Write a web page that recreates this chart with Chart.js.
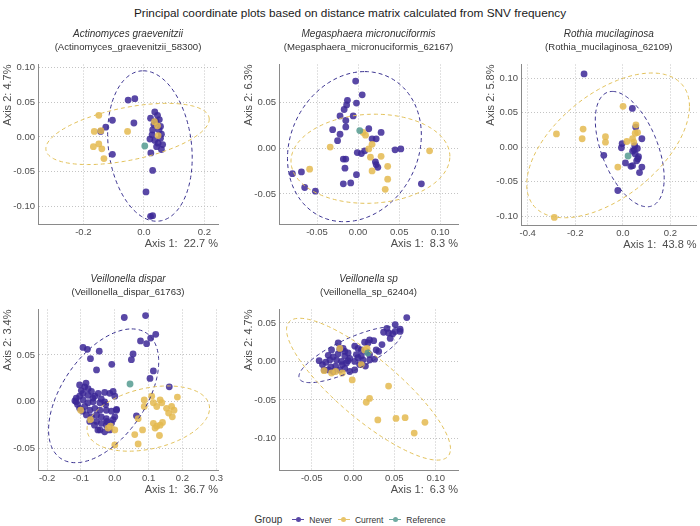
<!DOCTYPE html>
<html lang="en">
<head>
<meta charset="utf-8">
<title>PCoA SNV frequency</title>
<script src="https://cdn.jsdelivr.net/npm/chart.js@4.4.0/dist/chart.umd.min.js"></script>
<style>
    body { margin: 0; width: 700px; height: 526px; position: relative; background: #fff; overflow: hidden;
           font-family: "Liberation Sans", Arial, sans-serif; }
    #title { position: absolute; top: 6px; left: 0; width: 700px; text-align: center; font-size: 11.8px; color: #1a1a1a; }
    canvas { position: absolute; }
    #legend { position: absolute; top: 514px; left: 0; width: 700px; display: flex; justify-content: center;
              align-items: center; font-size: 8.5px; color: #333; }
    #legend .lt { font-size: 10px; margin-right: 4px; }
    #legend .mk { display: inline-block; width: 12px; height: 5px; position: relative; margin: 0 5px 0 6px; }
    #legend .mk::before { content: ""; position: absolute; left: 0; right: 0; top: 2px; height: 1px; background: var(--c); }
    #legend .mk::after { content: ""; position: absolute; left: 3.5px; top: 0; width: 5px; height: 5px; border-radius: 50%; background: var(--c); }
</style>
</head>
<body>
<div id="title">Principal coordinate plots based on distance matrix calculated from SNV frequency</div>

<canvas id="p1" width="222" height="228" style="left:0px;top:24px"></canvas>
<canvas id="p2" width="221" height="228" style="left:241px;top:24px"></canvas>
<canvas id="p3" width="217" height="229" style="left:483px;top:24px"></canvas>
<canvas id="p4" width="228" height="229" style="left:0px;top:269px"></canvas>
<canvas id="p5" width="221" height="229" style="left:241px;top:269px"></canvas>

<div id="legend">
    <span class="lt">Group</span>
    <span class="mk" style="--c:#5948a6"></span>Never
    <span class="mk" style="--c:#e8c46a"></span>Current
    <span class="mk" style="--c:#6faaa1"></span>Reference
</div>

<script>
    // ---- Actinomyces graevenitzii ----
    var actinoNever = [[-0.052,0.053],[-0.030,0.055],[-0.104,0.024],[-0.126,0.014],[-0.143,0.008],[-0.033,0.020],[-0.104,-0.025],
        [0.022,0.027],[0.036,0.036],[0.045,0.031],[0.051,0.025],[0.033,0.018],[0.055,0.015],[0.029,0.010],[0.058,0.004],
        [0.020,-0.003],[0.036,-0.005],[0.047,-0.009],[0.062,-0.011],[0.042,-0.014],[0.058,-0.018],[0.023,-0.023],
        [0.029,-0.048],[0.007,-0.079],[0.022,-0.114],[0.029,-0.113],[0.055,-0.002],[0.040,0.022],[0.050,0.010],[0.027,0.003]];
    var actinoCurrent = [[-0.149,0.031],[-0.164,0.008],[-0.142,0.009],[-0.054,0.008],[-0.167,-0.014],[-0.149,-0.010],
        [-0.139,-0.017],[-0.132,-0.031],[0.045,0.016],[0.047,0.002],[0.035,0.022]];
    var actinoReference = [[0.003,-0.013]];
    // ellipse: centre x, centre y, conjugate half-axis a (x,y), conjugate half-axis b (x,y)
    var actinoEllNever = [0.020,-0.013, -0.022,0.108, 0.138,0];
    var actinoEllCurrent = [-0.054,0.0043, 0.270,0.0212, 0,0.0385];
    var actinoXTicks = ["-0.2","0.0","0.2"];
    var actinoYTicks = ["-0.10","-0.05","0.00","0.05","0.10"];

    // ---- Megasphaera micronuciformis ----
    var megaNever = [[-0.003,0.073],[0.005,0.058],[-0.013,0.052],[-0.014,0.047],[-0.017,0.042],[-0.006,0.035],[-0.022,0.035],[-0.002,0.049],
        [-0.015,0.030],[-0.031,0.020],[-0.015,0.023],[-0.022,0.015],[-0.025,0.008],[0.013,0.021],[0.028,0.017],[0.017,0.010],
        [0.022,0.010],[0.008,-0.003],[0.004,-0.006],[-0.001,-0.005],[-0.018,-0.012],[-0.015,-0.012],[-0.016,-0.022],
        [0.022,-0.018],[0.024,-0.021],[0.021,-0.015],[0.045,-0.002],[0.052,-0.001],[-0.002,-0.029],[-0.009,-0.038],
        [-0.018,-0.039],[-0.080,-0.028],[-0.069,-0.026],[-0.065,-0.043],[-0.052,-0.047],[0.077,-0.039]];
    var megaCurrent = [[-0.034,0.001],[-0.059,-0.023],[0.006,0.017],[0.009,0.014],[0.017,0.004],[0.013,-0.001],[0.015,-0.010],
        [0.028,-0.009],[0.036,-0.020],[0.017,-0.025],[0.036,-0.034],[0.033,-0.045],[0.087,-0.003]];
    var megaReference = [[0.002,0.019]];
    var megaEllNever = [-0.0045,0.0015, 0.0126,0.0818, 0.0805,0];
    var megaEllCurrent = [0.015,-0.0117, 0.0967,0.0026, 0,0.0485];
    var megaXTicks = ["-0.05","0.00","0.05","0.10"];
    var megaYTicks = ["-0.05","0.00","0.05"];

    // ---- Rothia mucilaginosa ----
    var rothiaNever = [[-0.163,0.106],[0.040,0.056],[0.054,0.029],[0.080,0.012],[-0.003,0.005],[-0.006,-0.001],[-0.080,-0.012],
        [0.061,-0.002],[0.041,-0.006],[0.052,-0.010],[0.066,-0.014],[0.063,-0.017],[0.011,-0.023],[0.034,-0.028],[0.041,-0.027],
        [0.080,-0.029],[0.070,-0.037],[-0.021,-0.063],[0.050,0.002],[0.058,-0.020],[0.048,-0.004]];
    var rothiaCurrent = [[0.001,0.059],[0.055,0.032],[0.052,0.020],[0.062,0.021],[0.041,0.012],[0.017,0.008],[0.046,0.007],
        [-0.279,0.019],[-0.167,0.026],[-0.171,0.012],[-0.073,0.015],[-0.073,0.007],[-0.021,-0.029],[-0.288,-0.102]];
    var rothiaReference = [[0.022,-0.013]];
    var rothiaEllNever = [0.029,-0.003, -0.073,0.0836, 0.125,0];
    var rothiaEllCurrent = [-0.062,0.0024, 0.342,0.0565, 0,0.0884];
    var rothiaXTicks = ["-0.4","-0.2","0.0","0.2"];
    var rothiaYTicks = ["-0.10","-0.05","0.00","0.05","0.10"];

    // ---- Veillonella dispar ----
    var disparNever = [[0.028,0.090],[0.091,0.092],[0.121,0.072],[0.106,0.068],[0.076,0.065],[0.094,0.062],[0.054,0.051],[0.049,0.045],
        [-0.009,0.040],[-0.046,0.054],[-0.072,0.046],[-0.094,0.058],[-0.081,0.056],[-0.054,0.034],[0.114,0.033],[0.104,0.025],
        [0.161,0.016],[-0.005,0.011],
        [-0.104,0.018],[-0.089,0.016],[-0.079,0.014],[-0.069,0.011],[-0.094,0.009],[-0.104,0.006],[-0.079,0.007],[-0.059,0.006],
        [-0.049,0.009],[-0.030,0.010],[-0.015,0.009],[0.000,0.006],[-0.114,0.000],[-0.094,0.002],[-0.079,-0.001],[-0.064,0.000],
        [-0.044,-0.001],[-0.030,0.000],[-0.104,-0.007],[-0.089,-0.005],[-0.074,-0.009],[-0.059,-0.007],[-0.044,-0.009],[-0.025,-0.009],
        [-0.010,-0.010],[0.005,-0.009],[-0.084,-0.014],[-0.069,-0.016],[-0.054,-0.014],[-0.040,-0.016],[-0.025,-0.018],[0.000,-0.016],
        [-0.054,-0.021],[-0.040,-0.023],[-0.025,-0.025],[-0.010,-0.023],[-0.044,-0.030],[-0.030,-0.032],[-0.005,-0.019],
        [-0.074,-0.021],[-0.050,-0.030],[-0.023,-0.021],[0.005,-0.008],[0.064,-0.015],[-0.114,0.004],[-0.040,0.003],[-0.027,-0.003],
        [-0.099,0.012],[-0.085,0.020],[-0.065,0.004],[-0.110,-0.003],[-0.095,-0.010],[-0.060,-0.025],[-0.015,-0.030],[-0.118,0.001]];
    var disparCurrent = [[-0.101,-0.009],[-0.072,-0.019],[0.000,-0.046],[-0.013,-0.026],[0.000,-0.030],[0.059,-0.035],[0.069,-0.045],
        [0.069,-0.018],[0.082,-0.030],[0.087,0.002],[0.109,0.006],[0.087,-0.005],[0.114,-0.001],[0.134,0.002],[0.139,-0.001],
        [0.153,-0.007],[0.168,-0.005],[0.175,-0.009],[0.185,0.005],[0.170,-0.016],[0.159,-0.012],[0.114,-0.023],[0.124,-0.026],
        [0.134,-0.025],[0.141,-0.022],[0.119,-0.028],[0.132,-0.036],[0.124,-0.005],[-0.020,-0.028]];
    var disparReference = [[0.045,0.019]];
    var disparEllNever = [-0.033,0.0064, 0.083,0.0714, 0.14,0];
    var disparEllCurrent = [0.099,-0.0179, 0.181,0.0111, 0,0.033];
    var disparXTicks = ["-0.2","-0.1","0.0","0.1","0.2","0.3"];
    var disparYTicks = ["-0.05","0.00","0.05"];

    // ---- Veillonella sp ----
    var vspNever = [[0.065,0.057],[0.051,0.048],[0.057,0.042],[0.057,0.039],[0.041,0.043],[0.037,0.038],[0.043,0.037],[0.048,0.036],
        [0.020,0.028],[0.025,0.027],[0.014,0.025],[0.018,0.024],[0.035,0.022],[0.028,0.015],[0.031,0.013],[0.002,0.020],[0.006,0.017],
        [0.010,0.015],[-0.016,0.016],[-0.010,0.013],[-0.006,0.011],[-0.026,0.015],[-0.018,0.010],[0.016,0.013],[0.020,0.009],
        [0.026,0.003],[-0.041,0.001],[-0.037,-0.004],[-0.033,-0.001],[-0.028,0.002],[-0.030,-0.011],[-0.024,-0.013],[-0.020,0.002],
        [-0.014,0.000],[-0.008,-0.002],[-0.004,0.004],[0.002,0.000],[0.008,-0.004],[0.012,0.002],[-0.016,-0.011],[-0.010,-0.009],
        [-0.004,-0.013],[0.002,-0.011],[0.004,0.009],[0.010,0.007],[-0.021,-0.006],[-0.027,-0.007],[-0.035,-0.011],[-0.010,0.007],
        [-0.018,0.024],[-0.012,0.017],[0.020,0.002],[0.015,-0.006],[0.045,0.030],[0.051,0.039],[-0.024,0.006],[-0.006,0.001],
        [0.006,0.005],[-0.013,-0.004],[-0.030,0.008]];
    var vspCurrent = [[-0.035,-0.012],[-0.021,-0.013],[-0.013,-0.015],[-0.001,-0.024],[0.043,-0.032],[0.020,-0.048],[0.016,-0.053],
        [0.030,-0.076],[0.052,-0.074],[0.063,-0.073],[0.087,-0.079],[0.074,-0.093],[0.014,0.015],[0.010,-0.004],[-0.016,0.017],
        [0.017,0.017],[-0.026,-0.015]];
    var vspReference = [[0.018,0.011]];
    var vspEllNever = [-0.0033,0.0087, 0.0622,0.0283, 0,0.0226];
    var vspEllCurrent = [0.0187,-0.036, 0.0992,-0.0774, 0,0.05];
    var vspXTicks = ["-0.05","0.00","0.05","0.10"];
    var vspYTicks = ["-0.10","-0.05","0.00","0.05"];

    var FONT = "'Liberation Sans', Arial, sans-serif";
    var NEVER = "rgba(60,40,150,0.85)", CURRENT = "rgba(228,186,80,0.85)", REF = "rgba(85,155,145,0.85)";

    var ellipsePlugin = {
        id: 'ellipses',
        afterDatasetsDraw(chart, args, opts) {
            var ctx = chart.ctx, a = chart.chartArea, sx = chart.scales.x, sy = chart.scales.y;
            ctx.save();
            ctx.beginPath();
            ctx.rect(a.left, a.top, a.width, a.height);
            ctx.clip();
            ctx.setLineDash([4, 3]);
            ctx.lineWidth = 1;
            (opts.list || []).forEach(function (e) {
                var p = e.p;
                ctx.strokeStyle = e.color;
                ctx.beginPath();
                for (var i = 0; i <= 160; i++) {
                    var t = i / 160 * 2 * Math.PI;
                    var px = sx.getPixelForValue(p[0] + p[2] * Math.cos(t) + p[4] * Math.sin(t));
                    var py = sy.getPixelForValue(p[1] + p[3] * Math.cos(t) + p[5] * Math.sin(t));
                    if (i == 0) ctx.moveTo(px, py); else ctx.lineTo(px, py);
                }
                ctx.stroke();
            });
            ctx.restore();
        }
    };
    Chart.register(ellipsePlugin);

    function pts(arr) { return arr.map(function (d) { return {x: d[0], y: d[1]}; }); }

    function axis(labels, range, title, fitSize, horizontal) {
        return {
            type: 'linear', min: range[0], max: range[1],
            afterBuildTicks: function (s) { s.ticks = labels.map(function (l) { return {value: parseFloat(l)}; }); },
            afterFit: function (s) { if (horizontal) s.height = fitSize; else s.width = fitSize; },
            ticks: {
                autoSkip: false, maxRotation: 0, padding: 3, color: '#4d4d4d',
                font: {family: FONT, size: 9.5},
                callback: function (v) { return labels.find(function (l) { return parseFloat(l) === v; }); }
            },
            grid: {color: '#c4c4c4', lineWidth: 1, drawTicks: false},
            border: {display: true, color: '#8a8a8a', width: 1, dash: [1, 2]},
            title: {
                display: true, text: title, align: 'end', color: '#4d4d4d',
                font: {family: FONT, size: 11},
                padding: horizontal ? {top: 0, bottom: 1} : {top: 1, bottom: 0}
            }
        };
    }

    function panel(id, name, code, never, current, ref, ellN, ellC, xTicks, yTicks, xr, yr, xTitle, yTitle, padRight) {
        new Chart(id, {
            type: 'scatter',
            data: {
                datasets: [
                    {label: 'Reference', data: pts(ref), backgroundColor: REF},
                    {label: 'Current', data: pts(current), backgroundColor: CURRENT},
                    {label: 'Never', data: pts(never), backgroundColor: NEVER}
                ]
            },
            options: {
                responsive: false, animation: false, devicePixelRatio: 1,
                layout: {padding: {left: 0, right: padRight, top: 0, bottom: 0}},
                elements: {point: {radius: 3.4, borderWidth: 0, hoverRadius: 3.4}},
                scales: {
                    x: axis(xTicks, xr, xTitle, 28, true),
                    y: axis(yTicks, yr, yTitle, 38, false)
                },
                plugins: {
                    legend: {display: false},
                    tooltip: {enabled: false},
                    title: {display: true, text: name, fullSize: false, color: '#333',
                        font: {family: FONT, size: 10, style: 'italic', weight: 'normal'}, padding: {top: 4, bottom: 2}},
                    subtitle: {display: true, text: code, fullSize: false, color: '#333',
                        font: {family: FONT, size: 9.6}, padding: {top: 0, bottom: 11}},
                    ellipses: {list: [{p: ellN, color: '#3a3290'}, {p: ellC, color: '#e2c15a'}]}
                }
            }
        });
    }

    panel('p1', 'Actinomyces graevenitzii', '(Actinomyces_graevenitzii_58300)', actinoNever, actinoCurrent, actinoReference,
        actinoEllNever, actinoEllCurrent, actinoXTicks, actinoYTicks, [-0.35, 0.245], [-0.125, 0.104],
        'Axis 1:  22.7 %', 'Axis 2: 4.7%', 4);
    panel('p2', 'Megasphaera micronuciformis', '(Megasphaera_micronuciformis_62167)', megaNever, megaCurrent, megaReference,
        megaEllNever, megaEllCurrent, megaXTicks, megaYTicks, [-0.0963, 0.1216], [-0.0828, 0.091],
        'Axis 1:  8.3 %', 'Axis 2: 6.3%', 4);
    panel('p3', 'Rothia mucilaginosa', '(Rothia_mucilaginosa_62109)', rothiaNever, rothiaCurrent, rothiaReference,
        rothiaEllNever, rothiaEllCurrent, rothiaXTicks, rothiaYTicks, [-0.428, 0.31], [-0.113, 0.1196],
        'Axis 1:  43.8 %', 'Axis 2: 5.8%', 2);
    panel('p4', 'Veillonella dispar', '(Veillonella_dispar_61763)', disparNever, disparCurrent, disparReference,
        disparEllNever, disparEllCurrent, disparXTicks, disparYTicks, [-0.227, 0.305], [-0.0728, 0.0985],
        'Axis 1:  36.7 %', 'Axis 2: 3.4%', 10);
    panel('p5', 'Veillonella sp', '(Veillonella_sp_62404)', vspNever, vspCurrent, vspReference,
        vspEllNever, vspEllCurrent, vspXTicks, vspYTicks, [-0.0896, 0.127], [-0.141, 0.0675],
        'Axis 1:  6.3 %', 'Axis 2: 4.7%', 4);
</script>
</body>
</html>
